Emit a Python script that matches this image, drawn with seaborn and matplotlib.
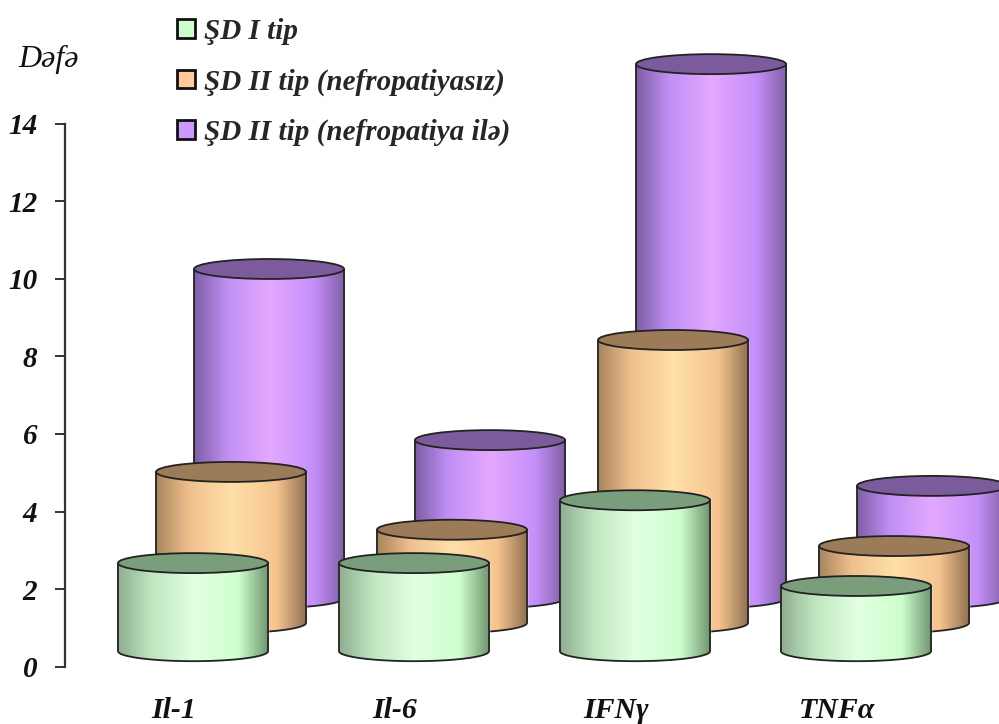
import numpy as np
import seaborn as sns
import matplotlib.pyplot as plt
from matplotlib.colors import LinearSegmentedColormap
from matplotlib.patches import Ellipse, PathPatch
from matplotlib.path import Path

categories = ["Il-1", "Il-6", "IFNγ", "TNFα"]
series_names = ["ŞD I tip", "ŞD II tip (nefropatiyasız)", "ŞD II tip (nefropatiya ilə)"]
sd1_values = [2.27, 2.27, 3.89, 1.68]
sd2_values = [3.89, 2.40, 7.29, 1.98]
sd2_nef_values = [8.48, 4.07, 13.76, 2.89]
y_ticks = [0, 2, 4, 6, 8, 10, 12, 14]

# fake 3d: every series sits a bit further back (x shift in categories, y base in value units)
depth_x = [0.0, 0.172, 0.344]
depth_y = [0.40, 1.13, 1.77]
bar_width = 0.679
ell_h = 0.515

top_colors = ["#7a9d7c", "#9b7b58", "#7b5b9b"]
legend_colors = ["#ccffcc", "#ffcc99", "#cc99ff"]
body_colors = [
    ["#8fae90", "#bfe6bf", "#e2ffe2", "#cdffcd", "#6e946e"],
    ["#a8855e", "#f0c08e", "#ffe0a8", "#f5c48f", "#8f7050"],
    ["#7e5ea5", "#c090f5", "#e4a8ff", "#c48ff8", "#7f5fa5"],
]
grad_stops = [0.0, 0.22, 0.5, 0.8, 1.0]

sns.set_theme(style="white")
plt.rcParams["font.family"] = ["Liberation Serif", "DejaVu Serif"]
plt.rcParams["font.weight"] = "bold"
plt.rcParams["font.style"] = "italic"

W, H = 999, 724
y0_px, unit_px = 666.7, 38.8
fig = plt.figure(figsize=(W / 100, H / 100), dpi=100)
ax = fig.add_axes([65 / W, (H - y0_px) / H, (W - 65) / W, y0_px / H])

all_values = [sd1_values, sd2_values, sd2_nef_values]

# back to front
for s in [2, 1, 0]:
    sns.barplot(x=categories, y=all_values[s], width=bar_width, color=legend_colors[s],
                saturation=1, errorbar=None, label=series_names[s], ax=ax, zorder=4 - s)
    cmap = LinearSegmentedColormap.from_list("cyl", list(zip(grad_stops, body_colors[s])))
    for p in ax.containers[-1]:
        p.set_x(p.get_x() + depth_x[s])
        p.set_y(depth_y[s])
        x0, w, h = p.get_x(), p.get_width(), p.get_height()
        y_b, y_t = depth_y[s], depth_y[s] + h
        z = 4 - s
        # body outline = sides plus the lower half of the base ellipse
        t = np.linspace(np.pi, 2 * np.pi, 60)
        xs = x0 + w / 2 + w / 2 * np.cos(t)
        ys = y_b + ell_h / 2 * np.sin(t)
        verts = [(x0, y_t)] + list(zip(xs, ys)) + [(x0 + w, y_t), (x0, y_t)]
        body = PathPatch(Path(verts), fc="none", ec="#222222", lw=1.3, zorder=z + 0.2)
        ax.add_patch(body)
        im = ax.imshow(np.linspace(0, 1, 256)[None, :], cmap=cmap, aspect="auto",
                       extent=(x0, x0 + w, y_b - ell_h, y_t), interpolation="bilinear", zorder=z + 0.1)
        im.set_clip_path(body)
        ax.add_patch(Ellipse((x0 + w / 2, y_t), w, ell_h, fc=top_colors[s], ec="#222222",
                             lw=1.3, zorder=z + 0.3))

ax.set_xlim((65 - 193) / 221, (999 - 193) / 221)
ax.set_ylim(0, y0_px / unit_px)

ax.set_xticks(np.arange(4) - 0.087, categories, fontsize=21.5)
ax.set_yticks(y_ticks, [str(v) for v in y_ticks], fontsize=21)
ax.tick_params(axis="x", length=0, pad=22, colors="#111111")
ax.tick_params(axis="y", length=7, width=1.2, left=True, pad=13, colors="#111111", direction="out")
sns.despine(ax=ax, bottom=True)
ax.spines["left"].set_bounds(0, 14)
ax.spines["left"].set_color("#333333")
ax.spines["left"].set_linewidth(1.6)

ax.set_ylabel("Dəfə", rotation=0, fontsize=23, fontweight="normal", color="#111111")
ax.yaxis.set_label_coords(-16 / 934, (y0_px - 59) / y0_px)
ax.yaxis.label.set_ha("center")
ax.yaxis.label.set_va("center")

handles, labels = ax.get_legend_handles_labels()
order = sorted(range(3), key=lambda i: series_names.index(labels[i]))
leg = ax.legend([handles[i] for i in order], [labels[i] for i in order], frameon=False,
                loc="upper left", bbox_to_anchor=((177 - 65) / 934, 1.0 - 18 / y0_px),
                handlelength=0.61, handleheight=0.61, handletextpad=0.3, labelspacing=0.8,
                borderpad=0, borderaxespad=0, prop=dict(size=21, weight="bold", style="italic"))
for h in leg.legend_handles:
    h.set_edgecolor("#111111")
    h.set_linewidth(2)

fig.savefig("out.png", dpi=100)
